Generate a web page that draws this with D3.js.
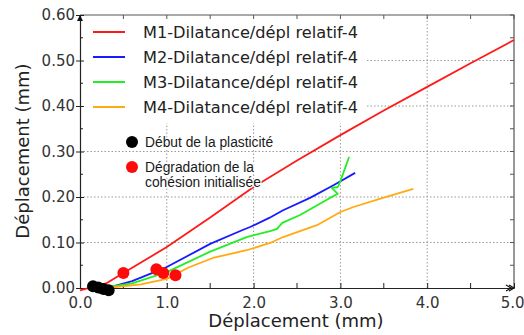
<!DOCTYPE html>
<html><head><meta charset="utf-8">
<script src="https://cdn.jsdelivr.net/npm/d3@7"></script>
<style>html,body{margin:0;padding:0;background:#fff;}svg{display:block;}</style>
</head><body>
<svg id="c" width="524" height="335"></svg>
<script>
const seriesNames = ["M1-Dilatance/dépl relatif-4","M2-Dilatance/dépl relatif-4","M3-Dilatance/dépl relatif-4","M4-Dilatance/dépl relatif-4"];
const seriesColors = ["#ff1a1a","#1a1aff","#22ee22","#ffaa11"];
const m1 = [[0,-0.005],[0.3,0.01],[0.5,0.033],[1.0,0.09],[1.5,0.155],[2.0,0.222],[2.5,0.28],[3.0,0.336],[3.5,0.39],[4.0,0.442],[4.5,0.494],[5.0,0.545]];
const m2 = [[0.2,0],[0.35,0.002],[0.6,0.015],[1.0,0.046],[1.5,0.097],[1.88,0.128],[1.96,0.134],[2.18,0.154],[2.34,0.171],[2.65,0.198],[2.92,0.226],[3.17,0.253]];
const m3 = [[0.25,0],[0.6,0.01],[1.0,0.035],[1.5,0.08],[1.92,0.112],[2.19,0.125],[2.27,0.13],[2.33,0.143],[2.53,0.16],[2.88,0.198],[2.97,0.207],[2.9,0.22],[2.97,0.222],[3.0,0.235],[3.1,0.288]];
const m4 = [[0.3,0],[0.7,0.008],[1.0,0.02],[1.25,0.045],[1.53,0.066],[1.92,0.083],[2.19,0.099],[2.34,0.112],[2.73,0.138],[3.0,0.167],[3.15,0.178],[3.49,0.198],[3.84,0.218]];
const plastStart = [[0.15,0.004],[0.21,0.001],[0.27,-0.002],[0.33,-0.005]];
const cohesionDeg = [[0.5,0.033],[0.88,0.041],[0.96,0.033],[1.1,0.028]];
const xTicks = [0,1,2,3,4,5];
const yTicks = [0,0.1,0.2,0.3,0.4,0.5,0.6];
const xMinor = [0.5,1.5,2.5,3.5,4.5];
const yMinor = [0.05,0.15,0.25,0.35,0.45,0.55];
const xTitle = "Déplacement (mm)";
const yTitle = "Déplacement (mm)";
const markerLabels = [["Début de la plasticité"],["Dégradation de la","cohésion initialisée"]];

const svg = d3.select("#c");
const x = d3.scaleLinear().domain([0,5]).range([80,514]);
const y = d3.scaleLinear().domain([0,0.6]).range([288,15]);
const [x0,x1] = x.range(), [y0,y1] = y.range();

// grid
const grid = svg.append("g").attr("stroke","#9a9a9a").attr("stroke-width",1).attr("stroke-dasharray","1.5,2");
grid.selectAll(".gx").data(xTicks.slice(1,-1)).join("line")
  .attr("x1",d=>x(d)).attr("x2",d=>x(d)).attr("y1",y0).attr("y2",y1);
grid.selectAll(".gy").data(yTicks.slice(1,-1)).join("line")
  .attr("x1",x0).attr("x2",x1).attr("y1",d=>y(d)).attr("y2",d=>y(d));

// legend background
svg.append("rect").attr("x",x0+1).attr("y",y1+1).attr("width",285).attr("height",107).attr("fill","#fff");

// frame (top/right)
svg.append("path").attr("d",`M${x0},${y1}H${x1}V${y0}`).attr("fill","none").attr("stroke","#555").attr("stroke-width",1.2);
const tk = svg.append("g").attr("stroke","#555").attr("stroke-width",1);
tk.selectAll(".tt").data(xTicks.concat(xMinor)).join("line")
  .attr("x1",d=>x(d)).attr("x2",d=>x(d)).attr("y1",y1).attr("y2",y1+4);
tk.selectAll(".tr").data(yTicks.concat(yMinor)).join("line")
  .attr("x1",x1).attr("x2",x1-4).attr("y1",d=>y(d)).attr("y2",d=>y(d));

// axes
const fmt = d3.format(".1f"), fmt2 = d3.format(".2f");
const gx = svg.append("g").attr("transform",`translate(0,${y0})`)
  .call(d3.axisBottom(x).tickValues(xTicks).tickFormat(fmt).tickSizeInner(-5).tickSizeOuter(0).tickPadding(9));
gx.selectAll(".tick text").filter(d=>d===xTicks[xTicks.length-1]).attr("text-anchor","end").attr("dx","10");
gx.append("g").selectAll("line").data(xMinor).join("line")
  .attr("x1",d=>x(d)).attr("x2",d=>x(d)).attr("y1",0).attr("y2",-5).attr("stroke","#222");
const gy = svg.append("g").attr("transform",`translate(${x0},0)`)
  .call(d3.axisLeft(y).tickValues(yTicks).tickFormat(fmt2).tickSizeInner(4).tickSizeOuter(0).tickPadding(1));
gy.selectAll(".tick line").attr("x2",-4).attr("x1",4);
gy.append("g").selectAll("line").data(yMinor).join("line")
  .attr("x1",0).attr("x2",3).attr("y1",d=>y(d)).attr("y2",d=>y(d)).attr("stroke","#222");
[gx,gy].forEach(g=>{
  g.select(".domain").attr("stroke","#222").attr("stroke-width",1.2);
  g.selectAll(".tick line").attr("stroke","#222");
  g.selectAll(".tick text").attr("font-family","DejaVu Sans").attr("font-size",15).attr("fill","#333");
});
// arrowheads
svg.append("path").attr("d",`M${x0-3},${y1+6}L${x0},${y1}L${x0+3},${y1+6}Z`).attr("fill","#111");
svg.append("path").attr("d",`M${x1-8},${y0-3}L${x1-3},${y0}L${x1-8},${y0+3}M${x1-5},${y0-3}L${x1},${y0}L${x1-5},${y0+3}`)
  .attr("fill","none").attr("stroke","#111").attr("stroke-width",1.2);

// titles
svg.append("text").attr("x",296).attr("y",327).attr("text-anchor","middle")
  .attr("font-family","DejaVu Sans").attr("font-size",18).attr("fill","#222").text(xTitle);
svg.append("text").attr("transform","translate(29,151) rotate(-90)").attr("text-anchor","middle")
  .attr("font-family","DejaVu Sans").attr("font-size",18).attr("fill","#222").text(yTitle);

// lines
const line = d3.line().x(d=>x(d[0])).y(d=>y(d[1]));
const series = [m1,m2,m3,m4];
svg.append("g").selectAll("path").data(series).join("path")
  .attr("d",line).attr("fill","none").attr("stroke",(d,i)=>seriesColors[i]).attr("stroke-width",1.8).attr("stroke-linejoin","round");

// markers
svg.append("g").selectAll("circle").data(cohesionDeg).join("circle")
  .attr("cx",d=>x(d[0])).attr("cy",d=>y(d[1])).attr("r",6).attr("fill","#ff0a0a");
svg.append("g").selectAll("circle").data(plastStart).join("circle")
  .attr("cx",d=>x(d[0])).attr("cy",d=>y(d[1])).attr("r",6).attr("fill","#000");

// legend 1
const leg = svg.append("g");
seriesNames.forEach((n,i)=>{
  const ly = 32 + i*25;
  leg.append("line").attr("x1",93).attr("x2",125).attr("y1",ly).attr("y2",ly).attr("stroke",seriesColors[i]).attr("stroke-width",2);
  leg.append("text").attr("x",143).attr("y",ly+6).attr("font-family","DejaVu Sans").attr("font-size",16.2).attr("fill","#222").text(n);
});
// legend 2
const mk = [["#000",142],["#ff0a0a",167]];
markerLabels.forEach((lines,i)=>{
  leg.append("circle").attr("cx",132).attr("cy",mk[i][1]).attr("r",6).attr("fill",mk[i][0]);
  lines.forEach((t,j)=>{
    leg.append("text").attr("x",145).attr("y",mk[i][1]+5+j*14.5)
      .attr("font-family","Liberation Sans").attr("font-size",13.8).attr("fill","#1a1a1a")
      .attr("stroke","#fff").attr("stroke-width",2.5).attr("paint-order","stroke").text(t);
  });
});
</script>
</body></html>
